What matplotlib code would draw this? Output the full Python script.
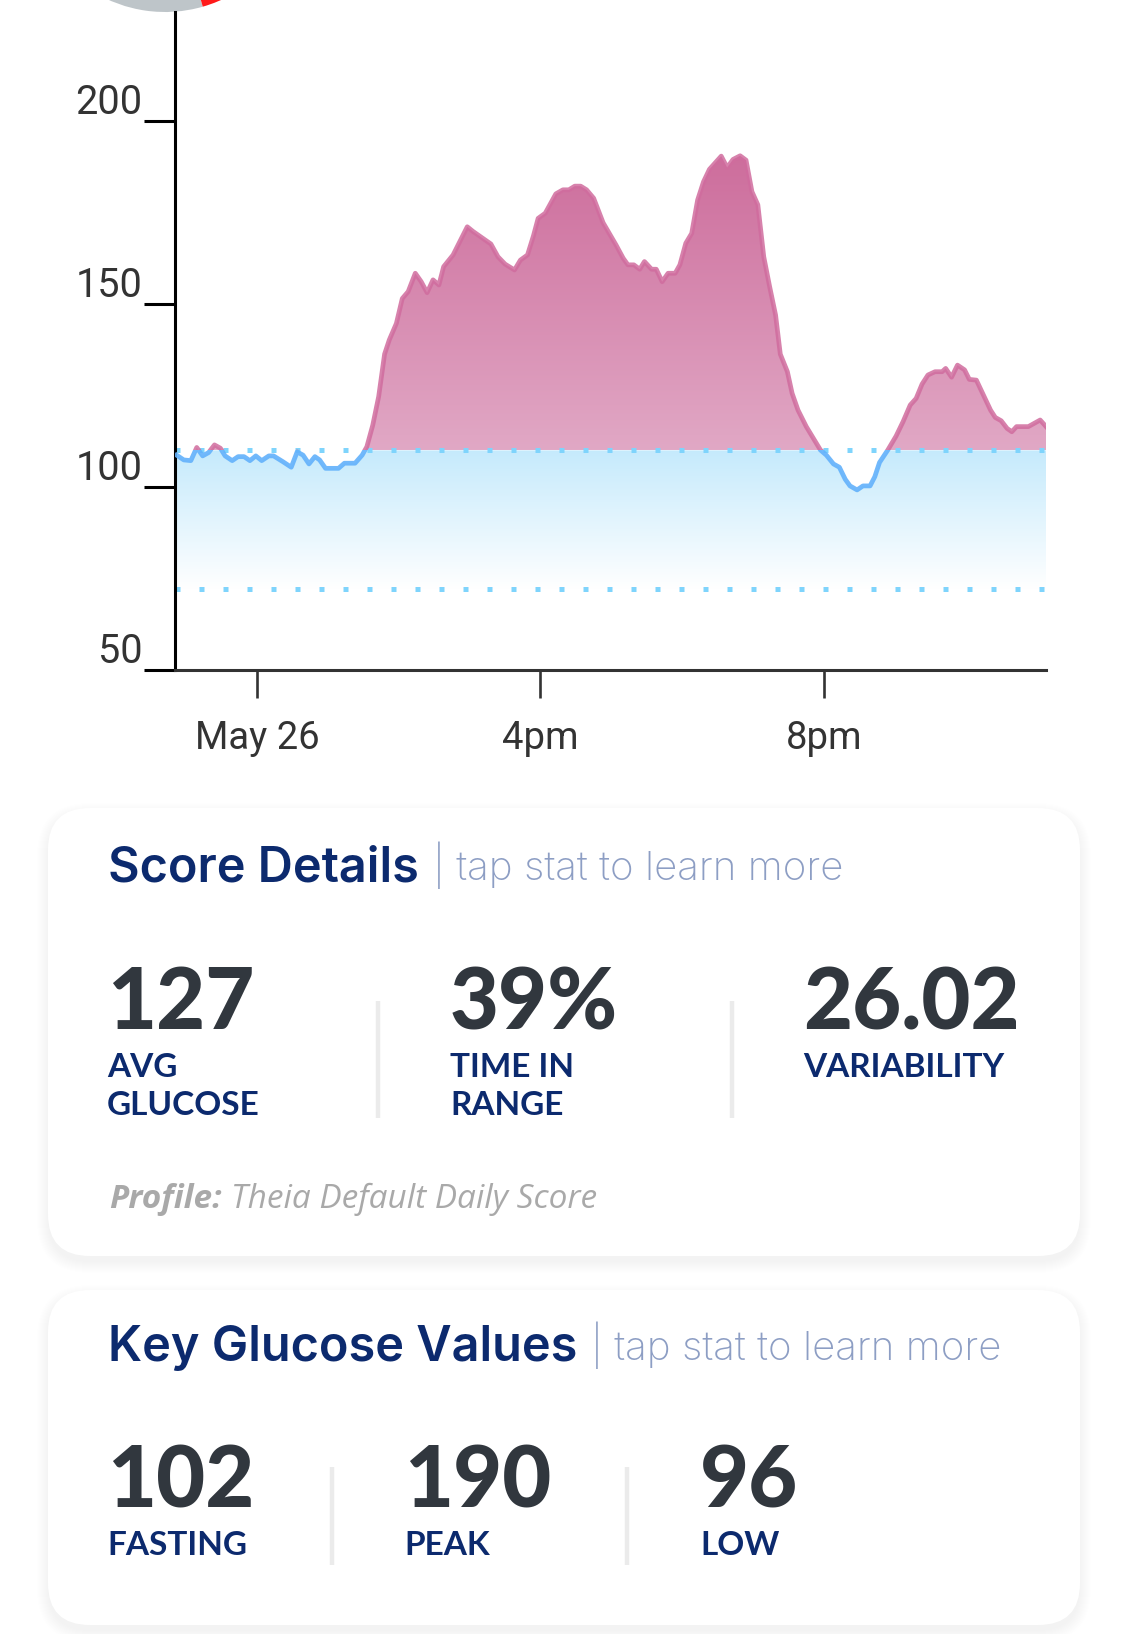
import numpy as np
import matplotlib
matplotlib.use("Agg")
import matplotlib.pyplot as plt
from matplotlib.patches import FancyBboxPatch, Wedge, Rectangle
from matplotlib.path import Path
from matplotlib.colors import LinearSegmentedColormap
import matplotlib.transforms as mtransforms

# glucose readings (time of day, mg/dL)
times = ["10:52", "10:58", "11:04", "11:09", "11:14", "11:19", "11:24", "11:29", "11:33", "11:39",
         "11:44", "11:49", "11:54", "11:59", "12:04", "12:10", "12:14", "12:22", "12:29", "12:34",
         "12:39", "12:44", "12:49", "12:53", "12:58", "13:09", "13:14", "13:23", "13:29", "13:33",
         "13:38", "13:43", "13:48", "13:52", "13:58", "14:03", "14:08", "14:14", "14:19", "14:24",
         "14:29", "14:34", "14:38", "14:46", "14:51", "14:58", "15:03", "15:10", "15:18", "15:24",
         "15:30", "15:38", "15:43", "15:49", "15:54", "15:58", "16:04", "16:13", "16:19", "16:24",
         "16:29", "16:34", "16:39", "16:45", "16:53",
         "17:04", "17:10", "17:14", "17:19", "17:24", "17:28", "17:34", "17:38", "17:43", "17:48",
         "17:54", "17:58", "18:03", "18:08", "18:13", "18:18", "18:23", "18:33", "18:38", "18:43",
         "18:49", "18:54", "18:59", "19:04", "19:09", "19:14", "19:19", "19:23", "19:29", "19:33",
         "19:38", "19:45", "19:57", "20:02", "20:08", "20:13", "20:18", "20:22", "20:28", "20:33",
         "20:39", "20:43", "20:47", "20:54", "21:01", "21:07", "21:13", "21:18", "21:23", "21:28",
         "21:34", "21:40", "21:43", "21:48", "21:53", "21:59", "22:03", "22:09", "22:15", "22:21",
         "22:25", "22:30", "22:35", "22:39", "22:43", "22:53", "23:03", "23:08"]
glucose = [108.7, 107.4, 107.2, 110.8, 108.5, 109.4, 111.5, 110.6, 108.5, 107.2,
           108.3, 108.3, 107.2, 108.5, 107.2, 108.5, 108.5, 106.9, 105.4, 109.6,
           108.7, 106.3, 108.3, 107.4, 105.1, 105.1, 106.5, 106.5, 108.7, 111.0,
           116.9, 124.7, 136.3, 140.2, 144.7, 151.5, 153.4, 158.4, 156.1, 153.1,
           156.6, 155.2, 160.2, 163.4, 166.6, 171.1, 169.8, 168.2, 166.4, 162.9,
           160.9, 159.3, 162.0, 163.4, 168.6, 173.4, 174.8, 180.1, 181.2, 181.2,
           182.2, 182.2, 181.2, 178.9, 172.2,
           166.1, 162.5, 160.7, 160.7, 159.5, 161.6, 159.5, 159.5, 156.1, 158.4,
           158.4, 160.7, 166.6, 169.3, 178.4, 183.4, 186.8, 190.4, 187.3, 189.5,
           190.5, 189.3, 180.7, 177.1, 162.9, 154.7, 147.0, 136.3, 131.5, 125.6,
           121.0, 116.5, 110.1, 108.7, 106.3, 105.4, 102.1, 100.3, 99.2, 100.3,
           100.3, 102.8, 106.7, 110.1, 113.9, 117.9, 122.4, 124.2, 128.1, 130.6,
           131.5, 131.5, 132.4, 130.0, 133.3, 132.0, 129.4, 129.2, 125.1, 121.0,
           119.0, 118.1, 116.0, 115.1, 116.5, 116.5, 118.3, 116.5]

range_low = 72
range_high = 110
y_ticks = [50, 100, 150, 200]
x_ticks = [12, 16, 20]
x_labels = ["May 26", "4pm", "8pm"]

score_values = ["127", "39%", "26.02"]
score_labels = [["AVG", "GLUCOSE"], ["TIME IN", "RANGE"], ["VARIABILITY"]]
key_values = ["102", "190", "96"]
key_labels = ["FASTING", "PEAK", "LOW"]

W, H = 1125, 1634
fig = plt.figure(figsize=(W / 100, H / 100), dpi=100)
fig.patch.set_facecolor("white")

# background axes in pixel units
bg = fig.add_axes([0, 0, 1, 1], zorder=0)
bg.set_xlim(0, W)
bg.set_ylim(H, 0)
bg.axis("off")

# score ring peeking in at the top
ring_c = (165, -125)
bg.add_patch(Wedge(ring_c, 137, 74, 170, width=30, facecolor="#bec5c9", edgecolor="none"))
bg.add_patch(Wedge(ring_c, 137, 20, 74, width=30, facecolor="#ff1a1a", edgecolor="none"))

# ---- chart ----
px_per_unit = 3.66
px_per_hour = 70.875
ax_l, ax_r, ax_t, ax_b = 175, 1046, 12, 670
x_left = 12 + (ax_l - 257) / px_per_hour
x_right = 12 + (ax_r - 257) / px_per_hour
y_top = 50 + (ax_b - ax_t) / px_per_unit

ax = fig.add_axes([ax_l / W, 1 - ax_b / H, (ax_r - ax_l) / W, (ax_b - ax_t) / H], zorder=1)
ax.patch.set_alpha(0)

t = np.array([int(s[:2]) + int(s[3:]) / 60 for s in times])
g = np.array(glucose)

# blue in-range fill: from low line up to min(curve, high)
blue_top = np.minimum(g, range_high)
blue_poly = ax.fill_between(t, range_low, blue_top, facecolor="none", edgecolor="none")
blue_path = Path.make_compound_path(*blue_poly.get_paths())
blue_cmap = LinearSegmentedColormap.from_list("b", ["#ffffff", "#c5eafc"])
im = ax.imshow(np.linspace(0, 1, 256).reshape(-1, 1), cmap=blue_cmap, aspect="auto",
               origin="lower", extent=[t[0], t[-1], range_low, range_high], zorder=1)
im.set_clip_path(blue_path, transform=ax.transData)

# pink high fill
pink_poly = ax.fill_between(t, range_high, g, where=g >= range_high, interpolate=True,
                            facecolor="none", edgecolor="none")
pink_path = Path.make_compound_path(*pink_poly.get_paths())
pink_cmap = LinearSegmentedColormap.from_list("p", ["#e1a8c5", "#cd6d9c"])
im2 = ax.imshow(np.linspace(0, 1, 256).reshape(-1, 1), cmap=pink_cmap, aspect="auto",
                origin="lower", extent=[t[0], t[-1], range_high, g.max()], zorder=1)
im2.set_clip_path(pink_path, transform=ax.transData)

# dotted range lines
for yv in (range_high, range_low):
    ax.axhline(yv, color="#7fd4fc", lw=3.6, dashes=(1, 3.8), zorder=2)

# curve: pink above range, blue inside
hi_clip = Rectangle((x_left, range_high), x_right - x_left, 300, transform=ax.transData)
lo_clip = Rectangle((x_left, 0), x_right - x_left, range_high, transform=ax.transData)
l1, = ax.plot(t, g, color="#d06c9e", alpha=0.85, lw=3.4, solid_joinstyle="round", zorder=3)
l1.set_clip_path(hi_clip)
l2, = ax.plot(t, g, color="#62b1fb", alpha=0.9, lw=3.4, solid_joinstyle="round", zorder=3)
l2.set_clip_path(lo_clip)

ax.set_xlim(x_left, x_right)
ax.set_ylim(50, y_top)

for side in ("top", "right"):
    ax.spines[side].set_visible(False)
ax.spines["left"].set_linewidth(2.2)
ax.spines["left"].set_color("black")
ax.spines["bottom"].set_linewidth(2.2)
ax.spines["bottom"].set_color("#333333")

ax.set_yticks(y_ticks)
ax.set_yticklabels([str(v) for v in y_ticks])
ax.tick_params(axis="y", length=22, width=2.2, color="black", pad=1.5,
               labelsize=28.5, labelcolor="#333333")
ax.set_xticks(x_ticks)
ax.set_xticklabels(x_labels)
ax.tick_params(axis="x", length=20, width=1.9, color="#333333", pad=16,
               labelsize=27.5, labelcolor="#333333")
up = mtransforms.ScaledTranslation(0, 7 / 100, fig.dpi_scale_trans)
for lab in ax.get_yticklabels():
    lab.set_fontfamily("Roboto")
    lab.set_va("baseline")
    lab.set_transform(lab.get_transform() + up)
for lab in ax.get_xticklabels():
    lab.set_fontfamily("Roboto")

# ---- cards ----
navy = "#0c2a6e"
numc = "#31373e"
subc = "#8d9ec4"
renderer = fig.canvas.get_renderer()


def right_edge(txt):
    bb = txt.get_window_extent(renderer=renderer)
    return bg.transData.inverted().transform((bb.x1, bb.y0))[0]


def card(x0, y0, x1, y1):
    for i in range(12):
        bg.add_patch(FancyBboxPatch((x0 - i, y0 - i + 6), x1 - x0 + 2 * i, y1 - y0 + 2 * i,
                                    boxstyle="round,pad=0,rounding_size=%d" % (42 + i),
                                    facecolor="black", edgecolor="none", alpha=0.0035))
    bg.add_patch(FancyBboxPatch((x0, y0), x1 - x0, y1 - y0,
                                boxstyle="round,pad=0,rounding_size=42",
                                facecolor="white", edgecolor="none"))


def header(y, title):
    tt = bg.text(108, y, title, fontsize=35, family="Inter", weight="semibold",
                 color=navy, va="baseline")
    bg.text(right_edge(tt) + 14, y - 1, "| tap stat to learn more", fontsize=29,
            family="Inter", weight="light", color=subc, va="baseline")


card(48, 808, 1080, 1256)
card(48, 1290, 1080, 1625)

header(881, "Score Details")
for x, v, labs, xs in zip([107, 450, 803], score_values, score_labels, [378, 732, None]):
    bg.text(x, 1029, v, fontsize=61, family="Lato", weight="black", color=numc, va="baseline")
    for k, lab in enumerate(labs):
        bg.text(x, 1077 + 38 * k, lab, fontsize=24, family="Lato", weight="bold",
                color=navy, va="baseline")
    if xs:
        bg.plot([xs, xs], [1001, 1118], color="#ebebeb", lw=3.2, solid_capstyle="butt")

pt = bg.text(109, 1208, "Profile:", fontsize=24, family="Open Sans", weight="bold",
             style="italic", color="#a9a9a9", va="baseline")
bg.text(right_edge(pt) + 9, 1208, "Theia Default Daily Score", fontsize=24,
        family="Open Sans", style="italic", color="#a9a9a9", va="baseline")

header(1361, "Key Glucose Values")
for x, v, lab, xs in zip([107, 404, 700], key_values, key_labels, [332, 627, None]):
    bg.text(x, 1508, v, fontsize=61, family="Lato", weight="black", color=numc, va="baseline")
    bg.text(x, 1555, lab, fontsize=24, family="Lato", weight="bold", color=navy, va="baseline")
    if xs:
        bg.plot([xs, xs], [1467, 1565], color="#ebebeb", lw=3.2, solid_capstyle="butt")

fig.savefig("out.png", dpi=100, facecolor="white")
